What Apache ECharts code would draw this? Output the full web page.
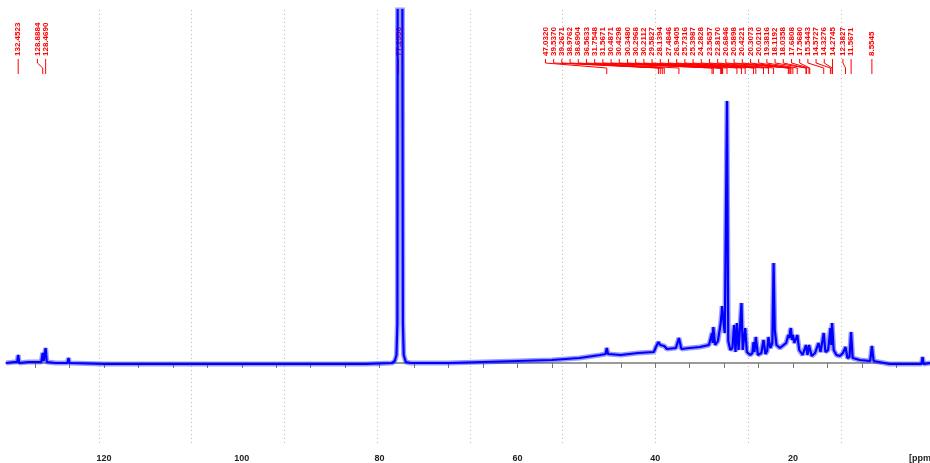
<!DOCTYPE html>
<html>
<head>
<meta charset="utf-8">
<script src="https://cdn.jsdelivr.net/npm/echarts@6/dist/echarts.min.js"></script>
<style>
html,body{margin:0;padding:0;background:#fff;}
#chart{width:930px;height:463px;}
</style>
</head>
<body>
<div id="chart"></div>
<script>
// ---- Data ----
// chemical shift (ppm)
const spectrumPpm = [134.2, 133.0, 132.6, 132.45, 132.3, 131.0, 129.1, 128.89, 128.75, 128.6, 128.47, 128.3, 127.0, 125.3, 125.15, 125.0,
  120, 110, 100, 90, 82, 78.2, 77.8, 77.55, 77.42, 77.35, 77.2, 77.05, 76.9, 76.75, 76.62, 76.5, 76.2, 75.5,
  70, 65, 60, 55, 51, 48, 47.2, 47.03, 46.85, 45, 42.5, 40.2, 39.9, 39.54, 39.27, 38.98, 38.69, 38.3, 37.0, 36.56, 36.2,
  35, 33.5, 32.2, 31.75, 31.66, 31.57, 31.3, 30.9, 30.49, 30.43, 30.35, 30.30, 30.21, 30.0, 29.9, 29.58, 29.4, 29.1,
  28.8, 28.55, 28.35, 28.14, 27.9, 27.65, 27.48, 27.3, 27.1, 26.94, 26.7, 26.2, 25.9, 25.73, 25.6, 25.40, 25.1, 24.6,
  24.28, 24.0, 23.75, 23.57, 23.3, 23.0, 22.82, 22.65, 22.4, 21.9, 21.0, 20.68, 20.59, 20.5, 20.42, 20.31, 20.15, 20.02,
  19.8, 19.55, 19.38, 19.1, 18.6, 18.12, 18.04, 17.9, 17.68, 17.57, 17.3, 16.8, 16.3, 16.0, 15.75, 15.54, 15.3, 14.9,
  14.57, 14.45, 14.33, 14.27, 14.1, 13.7, 13.2, 12.75, 12.38, 12.1, 11.8, 11.57, 11.35, 10.3, 8.8, 8.55, 8.3, 6.0, 3.0,
  1.35, 1.2, 1.05, 0.1];
// intensity (arbitrary units, baseline = 0)
const spectrumIntensity = [0, 1, 1, 8, 0, 1, 1, 10, 2, 2, 15, 1, 0, 0, 5, 0,
  -1, -1, -1, -1, -1, 0, 2, 8, 40, 600, 420, 600, 420, 600, 40, 8, 1, 0,
  0, 1, 2, 3, 5, 8, 9, 15, 9, 8, 10, 11, 16, 21, 18, 19, 17, 14, 15, 25, 14,
  15, 16, 18, 30, 20, 36, 18, 22, 40, 45, 50, 57, 55, 35, 30, 262, 22, 13,
  15, 38, 11, 40, 13, 15, 60, 13, 15, 35, 11, 8, 10, 21, 11, 26, 8, 10,
  23, 9, 12, 26, 15, 20, 100, 33, 18, 15, 20, 28, 30, 25, 32, 35, 23, 28,
  20, 22, 28, 13, 8, 18, 17, 8, 18, 16, 7, 10, 20, 11, 12, 30, 11, 13,
  35, 18, 40, 38, 13, 8, 7, 10, 16, 5, 6, 31, 5, 3, 2, 17, 2, -1, -1,
  -1, 6, -1, 0];
// peak pick labels (ppm)
const peakLabels = ["132.4523", "128.8884", "128.4690", "77.2556",
  "47.0320", "39.5370", "39.2671", "38.9762", "38.6904", "36.5633", "31.7548", "31.5671",
  "30.4871", "30.4298", "30.3480", "30.2968", "30.2112", "29.5827", "28.1394", "27.4846",
  "26.9405", "25.7316", "25.3987", "24.2828", "23.5657", "22.8170", "20.6846", "20.5898",
  "20.4221", "20.3073", "20.0210", "19.3816", "18.1192", "18.0358", "17.6808", "17.5680",
  "15.5443", "14.5727", "14.3276", "14.2745", "12.3827", "11.5671", "8.5545"];
// axis ticks
const minorTicks = [5, 10, 15, 20, 25, 30, 35, 40, 45, 50, 55, 60, 65, 70, 75, 80, 85, 90, 95, 100, 105, 110, 115, 120, 125, 130];
const tickLabels = [20, 40, 60, 80, 100, 120];

// ---- Chart ----
const chart = echarts.init(document.getElementById('chart'), null, {renderer: 'canvas'});
const seriesData = spectrumPpm.map((p, i) => [p, spectrumIntensity[i]]);
const peakPpm = peakLabels.map(s => parseFloat(s));
const LABEL_GAP = 8.2;

function layoutLabels(api) {
  const px = peakPpm.map(p => api.coord([p, 0])[0]);
  const order = px.map((v, i) => i).sort((a, b) => px[b] - px[a]);
  const lx = new Array(px.length);
  let prev = Infinity;
  order.forEach(i => {
    const x = Math.min(px[i], prev - LABEL_GAP);
    lx[i] = x;
    prev = x;
  });
  return {px, lx};
}

const option = {
  animation: false,
  backgroundColor: '#fff',
  grid: {left: 6, right: 0, top: 10, bottom: 20},
  xAxis: [{
    type: 'value',
    inverse: true,
    min: 0.12,
    max: 134.22,
    axisLine: {show: true, lineStyle: {color: '#9a9a9a', width: 2}},
    axisTick: {show: true, customValues: minorTicks, length: 5, lineStyle: {color: '#777', width: 1}},
    axisLabel: {show: true, customValues: tickLabels, fontSize: 9, fontWeight: 'bold',
      fontFamily: 'Liberation Sans', color: '#222', margin: 11},
    splitLine: {show: false}
  }, {
    type: 'value',
    position: 'top',
    min: 0,
    max: 9.962,
    interval: 1,
    axisLine: {show: false},
    axisTick: {show: false},
    axisLabel: {show: false},
    splitLine: {show: true, showMinLine: false, showMaxLine: false,
      lineStyle: {type: [1, 3], color: '#b8b8b8', width: 1}}
  }],
  yAxis: {
    type: 'value',
    min: -80,
    max: 353,
    show: false,
    splitLine: {show: false}
  },
  graphic: [{
    type: 'text', left: 909, top: 454,
    style: {text: '[ppm', font: 'bold 9px "Liberation Sans"', fill: '#222'}
  }],
  series: [{
    type: 'custom',
    z: 1,
    xAxisIndex: 0,
    data: peakPpm.map((p, i) => [p, i]),
    renderItem: function (params, api) {
      const i = params.dataIndex;
      const L = layoutLabels(api);
      const lx = L.lx[i], px = L.px[i];
      return {
        type: 'group',
        children: [{
          type: 'text',
          x: lx, y: 56,
          rotation: Math.PI / 2,
          style: {
            text: peakLabels[i],
            fill: '#ff0000',
            font: 'bold 8px "Liberation Sans"',
            align: 'left', verticalAlign: 'middle',
            textAlign: 'left', textVerticalAlign: 'middle'
          }
        }, {
          type: 'polyline',
          shape: {points: [[lx, 59], [lx, 63], [px, 68], [px, 74]]},
          style: {stroke: '#ff0000', lineWidth: 1, fill: null}
        }]
      };
    }
  }, {
    type: 'line',
    z: 2,
    data: seriesData,
    showSymbol: false,
    clip: true,
    silent: true,
    lineStyle: {color: 'rgba(30,30,255,0.45)', width: 5}
  }, {
    type: 'line',
    z: 3,
    data: seriesData,
    showSymbol: false,
    clip: true,
    silent: true,
    lineStyle: {color: '#0000ff', width: 2.2}
  }]
};
chart.setOption(option);
</script>
</body>
</html>
